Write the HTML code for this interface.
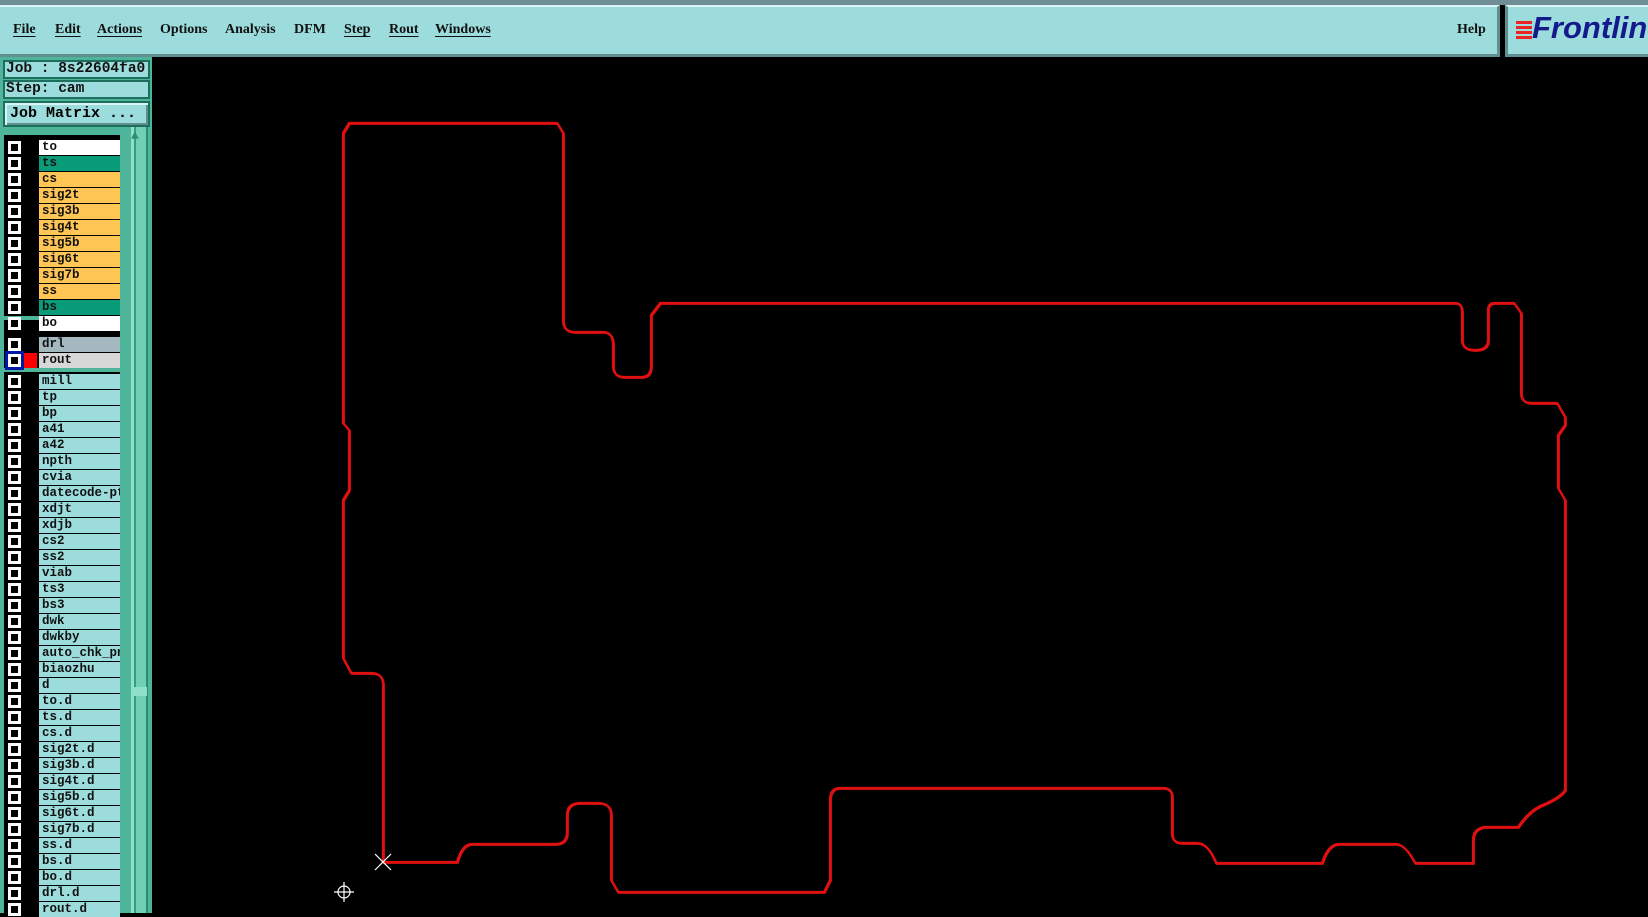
<!DOCTYPE html>
<html><head><meta charset="utf-8"><style>
*{margin:0;padding:0;box-sizing:border-box}
body{width:1648px;height:913px;background:#000;position:relative;overflow:hidden;font-family:"Liberation Mono",monospace}
.abs{position:absolute}
#top{left:0;top:0;width:1648px;height:5px;background:#6f8e96}
#menu{left:0;top:5px;width:1500px;height:52px;background:#9cdcdc;border-top:2px solid #d8f4f4;border-bottom:3px solid #5f8f8f;border-right:3px solid #5f8f8f}
#menu span{position:absolute;top:15px;font:bold 14px "Liberation Serif",serif;color:#111;text-decoration:underline;text-decoration-thickness:1px;text-underline-offset:3px}
#logo{left:1505px;top:5px;width:143px;height:52px;background:#9cdcdc;border-left:3px solid #5f8f8f;border-top:2px solid #d8f4f4;border-bottom:3px solid #5f8f8f}
#side{left:0;top:57px;width:152px;height:856px;background:#4fb59a}
.box{left:3px;width:147px;height:19px;background:#9cdcdc;border:2px solid #1d6e5c;font-weight:bold;font-size:14.5px;line-height:15px;padding-left:1px;color:#111;white-space:nowrap;overflow:hidden}
#list{left:4px;top:135px;width:116px;height:778px;background:#000}
.r{position:absolute;left:35px;width:81px;height:15px;font-weight:bold;font-size:12.5px;line-height:15px;padding-left:3px;color:#111;overflow:hidden;white-space:nowrap}
.c{position:absolute;left:4px;width:13px;height:13px;border:3px solid #fff;background:#000}
.sep{position:absolute;left:0;width:116px;height:4px;background:#4fb59a}
</style></head><body>
<div id="top" class="abs"></div>
<div id="menu" class="abs">
<span style="left:13px">File</span><span style="left:55px">Edit</span><span style="left:97px">Actions</span><span style="left:160px;text-decoration:none">Options</span><span style="left:225px;text-decoration:none">Analysis</span><span style="left:294px;text-decoration:none">DFM</span><span style="left:344px">Step</span><span style="left:389px">Rout</span><span style="left:435px">Windows</span><span style="left:1457px;text-decoration:none">Help</span>
</div>
<div id="logo" class="abs"><div class="abs" style="left:8px;top:14px;width:16px;height:3px;background:#e22;box-shadow:0 5px #e22,0 10px #e22,0 15px #e22"></div><div class="abs" style="left:24px;top:3px;font:italic bold 31px 'Liberation Sans',sans-serif;color:#141a8c;white-space:nowrap">Frontline</div></div>
<div id="side" class="abs">
<div class="box abs" style="top:3px">Job : 8s22604fa0</div>
<div class="box abs" style="top:23px">Step: cam</div>
<div class="abs" style="left:3px;top:44px;width:147px;height:26px;background:#9cdcdc;border:2px solid #1d6e5c;box-shadow:inset 2px 2px #d8f4f4,inset -2px -2px #5f8f8f;font-weight:bold;font-size:15px;line-height:22px;padding-left:5px;white-space:nowrap">Job Matrix ...</div>
<div class="abs" style="left:128px;top:70px;width:24px;height:786px;background:linear-gradient(90deg,#4fb59a 0 3px,#8fe0c8 3px 6px,#3a9a80 6px 8px,#6fd0b4 8px 18px,#2e8c74 18px 20px,#4fb59a 20px)"></div>
<div class="abs" style="left:131px;top:72px;width:16px;height:14px;font-size:13px;color:#2e8c74;line-height:14px">▲</div>
<div class="abs" style="left:131px;top:630px;width:16px;height:9px;background:#8fe0c8"></div>
</div>
<div id="list" class="abs">
<div class="sep" style="top:181px"></div><div class="sep" style="top:233px"></div>
</div>
<script>
var rows=[["to","#fff",140],["ts","#0a9b78",156],["cs","#ffc655",172],["sig2t","#ffc655",188],["sig3b","#ffc655",204],["sig4t","#ffc655",220],["sig5b","#ffc655",236],["sig6t","#ffc655",252],["sig7b","#ffc655",268],["ss","#ffc655",284],["bs","#0a9b78",300],["bo","#fff",316],["drl","#a4b8c0",337],["rout","#d8d8d8",353]];
var more="mill tp bp a41 a42 npth cvia datecode-ptc xdjt xdjb cs2 ss2 viab ts3 bs3 dwk dwkby auto_chk_pnl biaozhu d to.d ts.d cs.d sig2t.d sig3b.d sig4t.d sig5b.d sig6t.d sig7b.d ss.d bs.d bo.d drl.d rout.d".split(" ");
more.forEach(function(n,i){rows.push([n,"#9cdcdc",374+i*16])});
var L=document.getElementById("list"),h="";
rows.forEach(function(r){var y=r[2]-135;
h+='<div class="c" style="top:'+(y+1)+'px'+(r[0]=="rout"?';border-color:#fff;outline:3px solid #0018a8':'')+'"></div>';
if(r[0]=="rout")h+='<div style="position:absolute;left:20px;top:'+y+'px;width:13px;height:15px;background:#f00"></div>';
h+='<div class="r" style="top:'+y+'px;background:'+r[1]+'">'+r[0]+'</div>';});
L.innerHTML+=h;
</script>
<svg class="abs" style="left:0;top:0" width="1648" height="913">
<g fill="none" stroke-linejoin="round">
<path id="o" d="M343,423 L343,133 L349,123 L557,123 L563,133 L563,320 Q563,332 575,332 L603,332 Q613,332 613,345 L613,366 Q613,377 625,377 L641,377 Q651,377 651,366 L651,315 L660,303 L1455,303 Q1462,303 1462,312 L1462,340 Q1462,350 1475,350 Q1488,350 1488,340 L1488,310 Q1488,303 1495,303 L1514,303 L1521,313 L1521,393 Q1521,403 1532,403 L1557,403 L1565,417 L1565,425 L1558,435 L1558,488 L1565,500 L1565,790 Q1560,798 1540,806 Q1528,812 1518,827 L1484,827 Q1473,829 1473,840 L1473,863 L1415,863 Q1405,844 1396,844 L1339,844 Q1328,844 1322,863 L1216,863 Q1208,843 1197,843 L1182,843 Q1172,843 1172,833 L1172,797 Q1172,788 1163,788 L840,788 Q830,788 830,800 L830,880 L824,892 L618,892 L611,880 L611,815 Q611,803 598,803 L580,803 Q567,803 567,815 L567,832 Q567,844 555,844 L472,844 Q462,844 457,862 L383,862 L383,685 Q383,673 371,673 L351,673 L343,658 L343,500 L349,490 L349,430 Z" stroke="#e01010" stroke-width="2.2"/>
<use href="#o" stroke="#bfe8e8" stroke-width="0.7" transform="translate(0.8,0.8)"/>
</g>
<g stroke="#fff" stroke-width="1.2" fill="none">
<path d="M375,854 L391,870 M391,854 L375,870"/>
<circle cx="344" cy="892" r="6"/><path d="M344,882 V902 M334,892 H354"/>
</g>
</svg>
</body></html>
